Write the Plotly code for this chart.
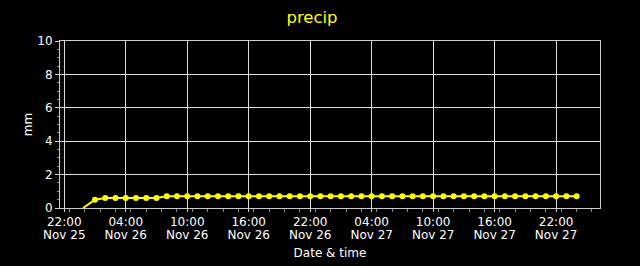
import plotly.graph_objects as go

times = ["2023-11-25 23:50"] + [
    f"2023-11-{d} {h:02d}:00" for d in (26, 27) for h in range(24)
][1:] + ["2023-11-28 00:00"]
# values (mm)
precip = [0.0, 0.5, 0.6, 0.6, 0.6, 0.6, 0.6, 0.6] + [0.7] * 41

x_range = ["2023-11-25 21:35", "2023-11-28 02:17"]
tick_start = "2023-11-25 22:00"
six_hours = 6 * 3600 * 1000

marker_sizes = [0] + [6] * (len(precip) - 1)

fig = go.Figure()
# invisible copy on the second (date-label) axis so that it gets drawn
fig.add_trace(go.Scatter(
    x=times, y=precip, xaxis="x2", mode="markers",
    marker=dict(opacity=0), hoverinfo="skip", showlegend=False,
))
fig.add_trace(go.Scatter(
    x=times, y=precip, mode="lines+markers",
    line=dict(color="#ffff00", width=2),
    marker=dict(color="#ffff00", size=marker_sizes, opacity=1, line=dict(width=0)),
    showlegend=False,
))

axis_font = dict(family="DejaVu Sans", size=12, color="#ffffff")
fig.update_layout(
    width=640, height=266,
    paper_bgcolor="#000000", plot_bgcolor="#000000",
    margin=dict(l=60, r=40, t=41, b=58, autoexpand=False),
    font=dict(family="DejaVu Sans", size=12, color="#ffffff"),
    title=dict(text="precip", x=0.4875, xanchor="center", y=0.935, yanchor="middle",
               font=dict(family="DejaVu Sans", size=16.5, color="#ffff00")),
    xaxis=dict(
        title=dict(text="Date & time", font=axis_font, standoff=20),
        automargin=False,
        type="date", range=x_range,
        tick0=tick_start, dtick=six_hours,
        tickformat="%H:%M",
        tickfont=axis_font,
        showgrid=True, gridcolor="#dddddd", gridwidth=1,
        showline=True, linecolor="#cccccc", linewidth=1, mirror=True,
        ticks="outside", ticklen=3, tickcolor="#cccccc",
        minor=dict(dtick=1.5 * 3600 * 1000, ticks="outside", ticklen=3, tickcolor="#888888"),
        zeroline=False,
    ),
    xaxis2=dict(
        overlaying="x", matches="x", anchor="y", side="bottom",
        automargin=False,
        type="date", range=x_range,
        tick0=tick_start, dtick=six_hours,
        tickformat="%b %d",
        tickfont=axis_font,
        ticklabelstandoff=18,
        showgrid=False, showline=False, ticks="", zeroline=False,
    ),
    yaxis=dict(
        title=dict(text="mm", font=axis_font, standoff=2),
        automargin=False,
        range=[0, 10], dtick=2,
        tickfont=axis_font,
        showgrid=True, gridcolor="#dddddd", gridwidth=1,
        showline=True, linecolor="#cccccc", linewidth=1, mirror=True,
        ticks="outside", ticklen=4, tickcolor="#cccccc",
        minor=dict(dtick=0.5, ticks="outside", ticklen=2, tickcolor="#888888"),
        zeroline=False,
    ),
)

fig.write_html("out.html")
